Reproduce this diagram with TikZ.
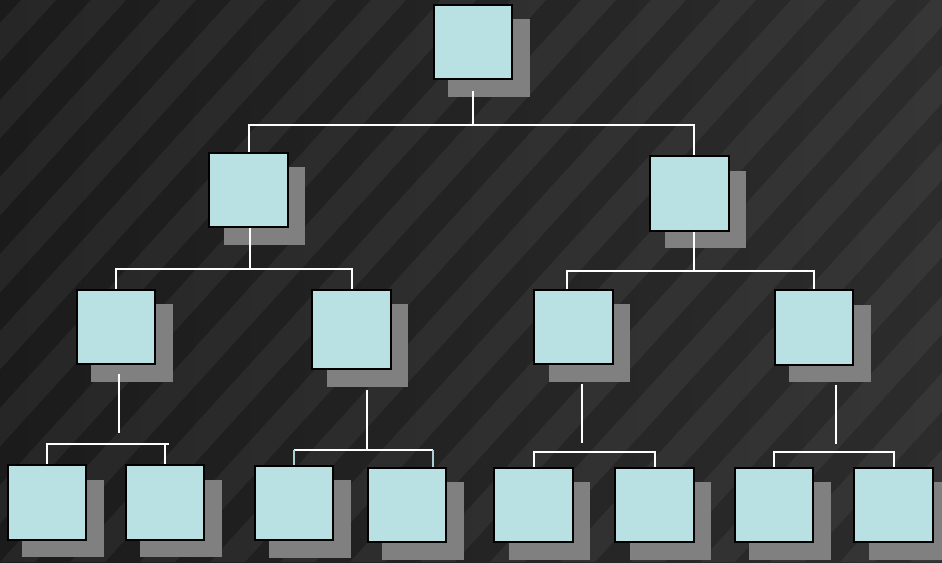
\documentclass[tikz,border=0pt]{standalone}
\usetikzlibrary{shadows}
\definecolor{boxfill}{RGB}{185,224,227}
\definecolor{shadowgray}{RGB}{128,128,128}
\definecolor{bgleft}{RGB}{27,27,27}
\definecolor{bgright}{RGB}{44,44,44}
\definecolor{paletick}{RGB}{170,208,214}
\begin{document}
\begin{tikzpicture}[x=1pt,y=-1pt,
  box/.style={draw=black,line width=1.6pt,fill=boxfill,inner sep=0pt,
    minimum width=78.5pt,minimum height=74.5pt,
    drop shadow={shadow xshift=15.5pt,shadow yshift=-15.5pt,shadow scale=1.04,fill=shadowgray,opacity=1}},
  link/.style={white,line width=2pt}]
  \useasboundingbox (0,0) rectangle (942,562);
  \shade[left color=bgleft,right color=bgright] (0,0) rectangle (942,562);
  \begin{scope}
    \clip (0,0) rectangle (942,562);
    \foreach \i in {-8,...,14}
      \fill[white,opacity=.05] (\i*70,562) -- ++(35,0) -- ++(511,-562) -- ++(-35,0) -- cycle;
  \end{scope}

  \node[box] (root) at (473,42) {};
  \node[box] (l) at (248.5,190) {};
  \node[box] (r) at (689.5,193.5) {};
  \node[box] (ll) at (116,327) {};
  \node[box,minimum height=79.5pt] (lr) at (351.5,329.5) {};
  \node[box] (rl) at (573.5,327) {};
  \node[box] (rr) at (814,327.5) {};
  \node[box] (lll) at (47,502.5) {};
  \node[box] (llr) at (165,502.5) {};
  \node[box] (lrl) at (294,503) {};
  \node[box] (lrr) at (407,505) {};
  \node[box] (rll) at (533.5,505) {};
  \node[box] (rlr) at (654.5,505) {};
  \node[box] (rrl) at (774,505) {};
  \node[box] (rrr) at (893.5,505) {};

  \coordinate (bar) at (0,125);
  \coordinate (barl) at (0,269);
  \coordinate (barr) at (0,271);
  \coordinate (barll) at (0,444);
  \coordinate (barlr) at (0,450);
  \coordinate (barrl) at (0,452);
  \coordinate (barrr) at (0,452);
  \coordinate (rt) at ([xshift=4.5pt]r.north);
  \coordinate (rb) at ([xshift=4.5pt]r.south);
  \coordinate (lb) at ([xshift=1.5pt]l.south);
  \coordinate (rlt) at ([xshift=-6.5pt]rl.north);
  \coordinate (lrv) at ([xshift=15.5pt,yshift=-20pt]lr.south);
  \coordinate (lrrt) at ([xshift=26pt]lrr.north);

  \draw[link] ([yshift=-11pt]root.south) -- (root |- bar);
  \draw[link] (l.north) -- (l |- bar) -- (rt |- bar) -- (rt);

  \draw[link] (lb) -- (lb |- barl);
  \draw[link] (ll.north) -- (ll |- barl) -- (lr |- barl) -- (lr.north);
  \draw[link] (rb) -- (rb |- barr);
  \draw[link] (rlt) -- (rlt |- barr) -- (rr |- barr) -- (rr.north);

  \draw[link] ([xshift=3pt,yshift=-9pt]ll.south) -- ++(0,59);
  \draw[link] (lll.north) -- (lll |- barll) -- (llr |- barll) -- (llr.north);
  \draw[link] (llr |- barll) -- ++(4,0);
  \draw[link] (lrv) -- (lrv |- barlr);
  \draw[link] (lrl |- barlr) -- (lrrt |- barlr);
  \draw[link,paletick] (lrl.north) -- (lrl |- barlr);
  \draw[link,paletick] (lrrt) -- (lrrt |- barlr);
  \draw[link] ([xshift=8.5pt,yshift=-19pt]rl.south) -- ++(0,59);
  \draw[link] (rll.north) -- (rll |- barrl) -- (rlr |- barrl) -- (rlr.north);
  \draw[link] ([xshift=22pt,yshift=-19pt]rr.south) -- ++(0,59);
  \draw[link] (rrl.north) -- (rrl |- barrr) -- (rrr |- barrr) -- (rrr.north);
\end{tikzpicture}
\end{document}
